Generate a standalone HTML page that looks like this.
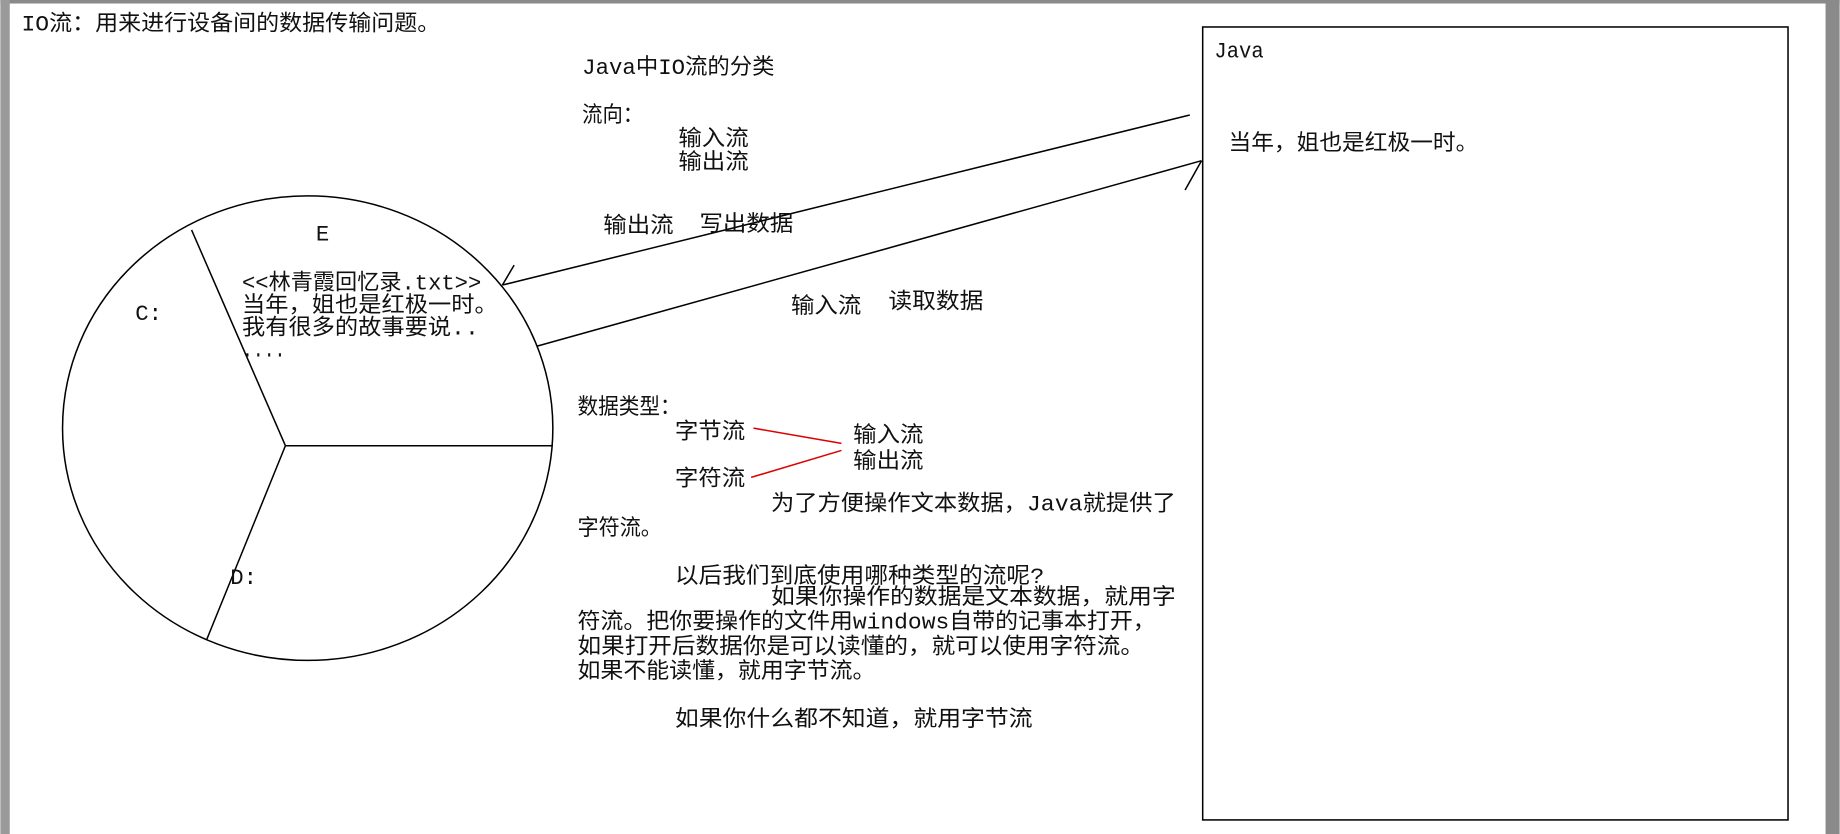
<!DOCTYPE html>
<html><head><meta charset="utf-8"><style>
html,body{margin:0;padding:0;background:#fff;width:1840px;height:834px;overflow:hidden}
svg{display:block}
text{font-family:"Liberation Mono","Noto Sans CJK SC",monospace;font-size:19px;fill:#111}
</style></head><body>
<svg width="1840" height="834" viewBox="0 0 1568 711">
<rect x="0" y="0" width="1568" height="711" fill="#fff"/>
<rect x="0" y="0" width="1568" height="3" fill="#8a8a8a"/>
<rect x="0" y="0" width="8" height="711" fill="#9a9a9a"/>
<rect x="1556" y="0" width="12" height="711" fill="#8a8a8a"/>
<g stroke="#000" stroke-width="1.3" fill="none">
<ellipse cx="262" cy="365" rx="209" ry="198"/>
<line x1="243" y1="380" x2="163" y2="196"/>
<line x1="243" y1="380" x2="471" y2="380"/>
<line x1="243" y1="380" x2="176" y2="545"/>
<rect x="1025" y="23" width="499" height="676"/>
<line x1="428" y1="243" x2="1014" y2="98"/>
<line x1="428" y1="243" x2="438" y2="226"/>
<line x1="458" y1="295" x2="1024" y2="137"/>
<line x1="1024" y1="137" x2="1010" y2="162"/>
</g>
<g stroke="#d00" stroke-width="1.3">
<line x1="642" y1="365" x2="717" y2="378"/>
<line x1="640" y1="407" x2="717" y2="384"/>
</g>
<g lengthAdjust="spacingAndGlyphs">
<text x="18" y="26" textLength="357" lengthAdjust="spacingAndGlyphs">IO流：用来进行设备间的数据传输问题。</text>
<text x="269" y="205">E</text>
<text x="115" y="273">C:</text>
<text x="196" y="498">D:</text>
<text x="206" y="247" textLength="204" lengthAdjust="spacingAndGlyphs">&lt;&lt;林青霞回忆录.txt&gt;&gt;</text>
<text x="206" y="266" textLength="218" lengthAdjust="spacingAndGlyphs">当年，姐也是红极一时。</text>
<text x="206" y="285" textLength="202" lengthAdjust="spacingAndGlyphs">我有很多的故事要说..</text>
<text x="206" y="304" textLength="37" lengthAdjust="spacingAndGlyphs">....</text>
<text x="1035" y="49" textLength="42" lengthAdjust="spacingAndGlyphs">Java</text>
<text x="1047" y="128" textLength="213" lengthAdjust="spacingAndGlyphs">当年，姐也是红极一时。</text>
<text x="496" y="63" textLength="164" lengthAdjust="spacingAndGlyphs">Java中IO流的分类</text>
<text x="496" y="104" textLength="52" lengthAdjust="spacingAndGlyphs">流向：</text>
<text x="578" y="124" textLength="60" lengthAdjust="spacingAndGlyphs">输入流</text>
<text x="578" y="144" textLength="60" lengthAdjust="spacingAndGlyphs">输出流</text>
<text x="514" y="198" textLength="60" lengthAdjust="spacingAndGlyphs">输出流</text>
<text x="596" y="197" textLength="80" lengthAdjust="spacingAndGlyphs">写出数据</text>
<text x="674" y="267" textLength="60" lengthAdjust="spacingAndGlyphs">输入流</text>
<text x="757" y="263" textLength="81" lengthAdjust="spacingAndGlyphs">读取数据</text>
<text x="492" y="353" textLength="88" lengthAdjust="spacingAndGlyphs">数据类型：</text>
<text x="575" y="374" textLength="60" lengthAdjust="spacingAndGlyphs">字节流</text>
<text x="575" y="414" textLength="60" lengthAdjust="spacingAndGlyphs">字符流</text>
<text x="727" y="377" textLength="60" lengthAdjust="spacingAndGlyphs">输入流</text>
<text x="727" y="399" textLength="60" lengthAdjust="spacingAndGlyphs">输出流</text>
<text x="657" y="435" textLength="345" lengthAdjust="spacingAndGlyphs">为了方便操作文本数据，Java就提供了</text>
<text x="492" y="456" textLength="72" lengthAdjust="spacingAndGlyphs">字符流。</text>
<text x="575" y="497" textLength="315" lengthAdjust="spacingAndGlyphs">以后我们到底使用哪种类型的流呢?</text>
<text x="657" y="515" textLength="345" lengthAdjust="spacingAndGlyphs">如果你操作的数据是文本数据，就用字</text>
<text x="492" y="536" textLength="493" lengthAdjust="spacingAndGlyphs">符流。把你要操作的文件用windows自带的记事本打开，</text>
<text x="492" y="557" textLength="483" lengthAdjust="spacingAndGlyphs">如果打开后数据你是可以读懂的，就可以使用字符流。</text>
<text x="492" y="578" textLength="254" lengthAdjust="spacingAndGlyphs">如果不能读懂，就用字节流。</text>
<text x="575" y="619" textLength="305" lengthAdjust="spacingAndGlyphs">如果你什么都不知道，就用字节流</text>
</g>
</svg>
</body></html>
